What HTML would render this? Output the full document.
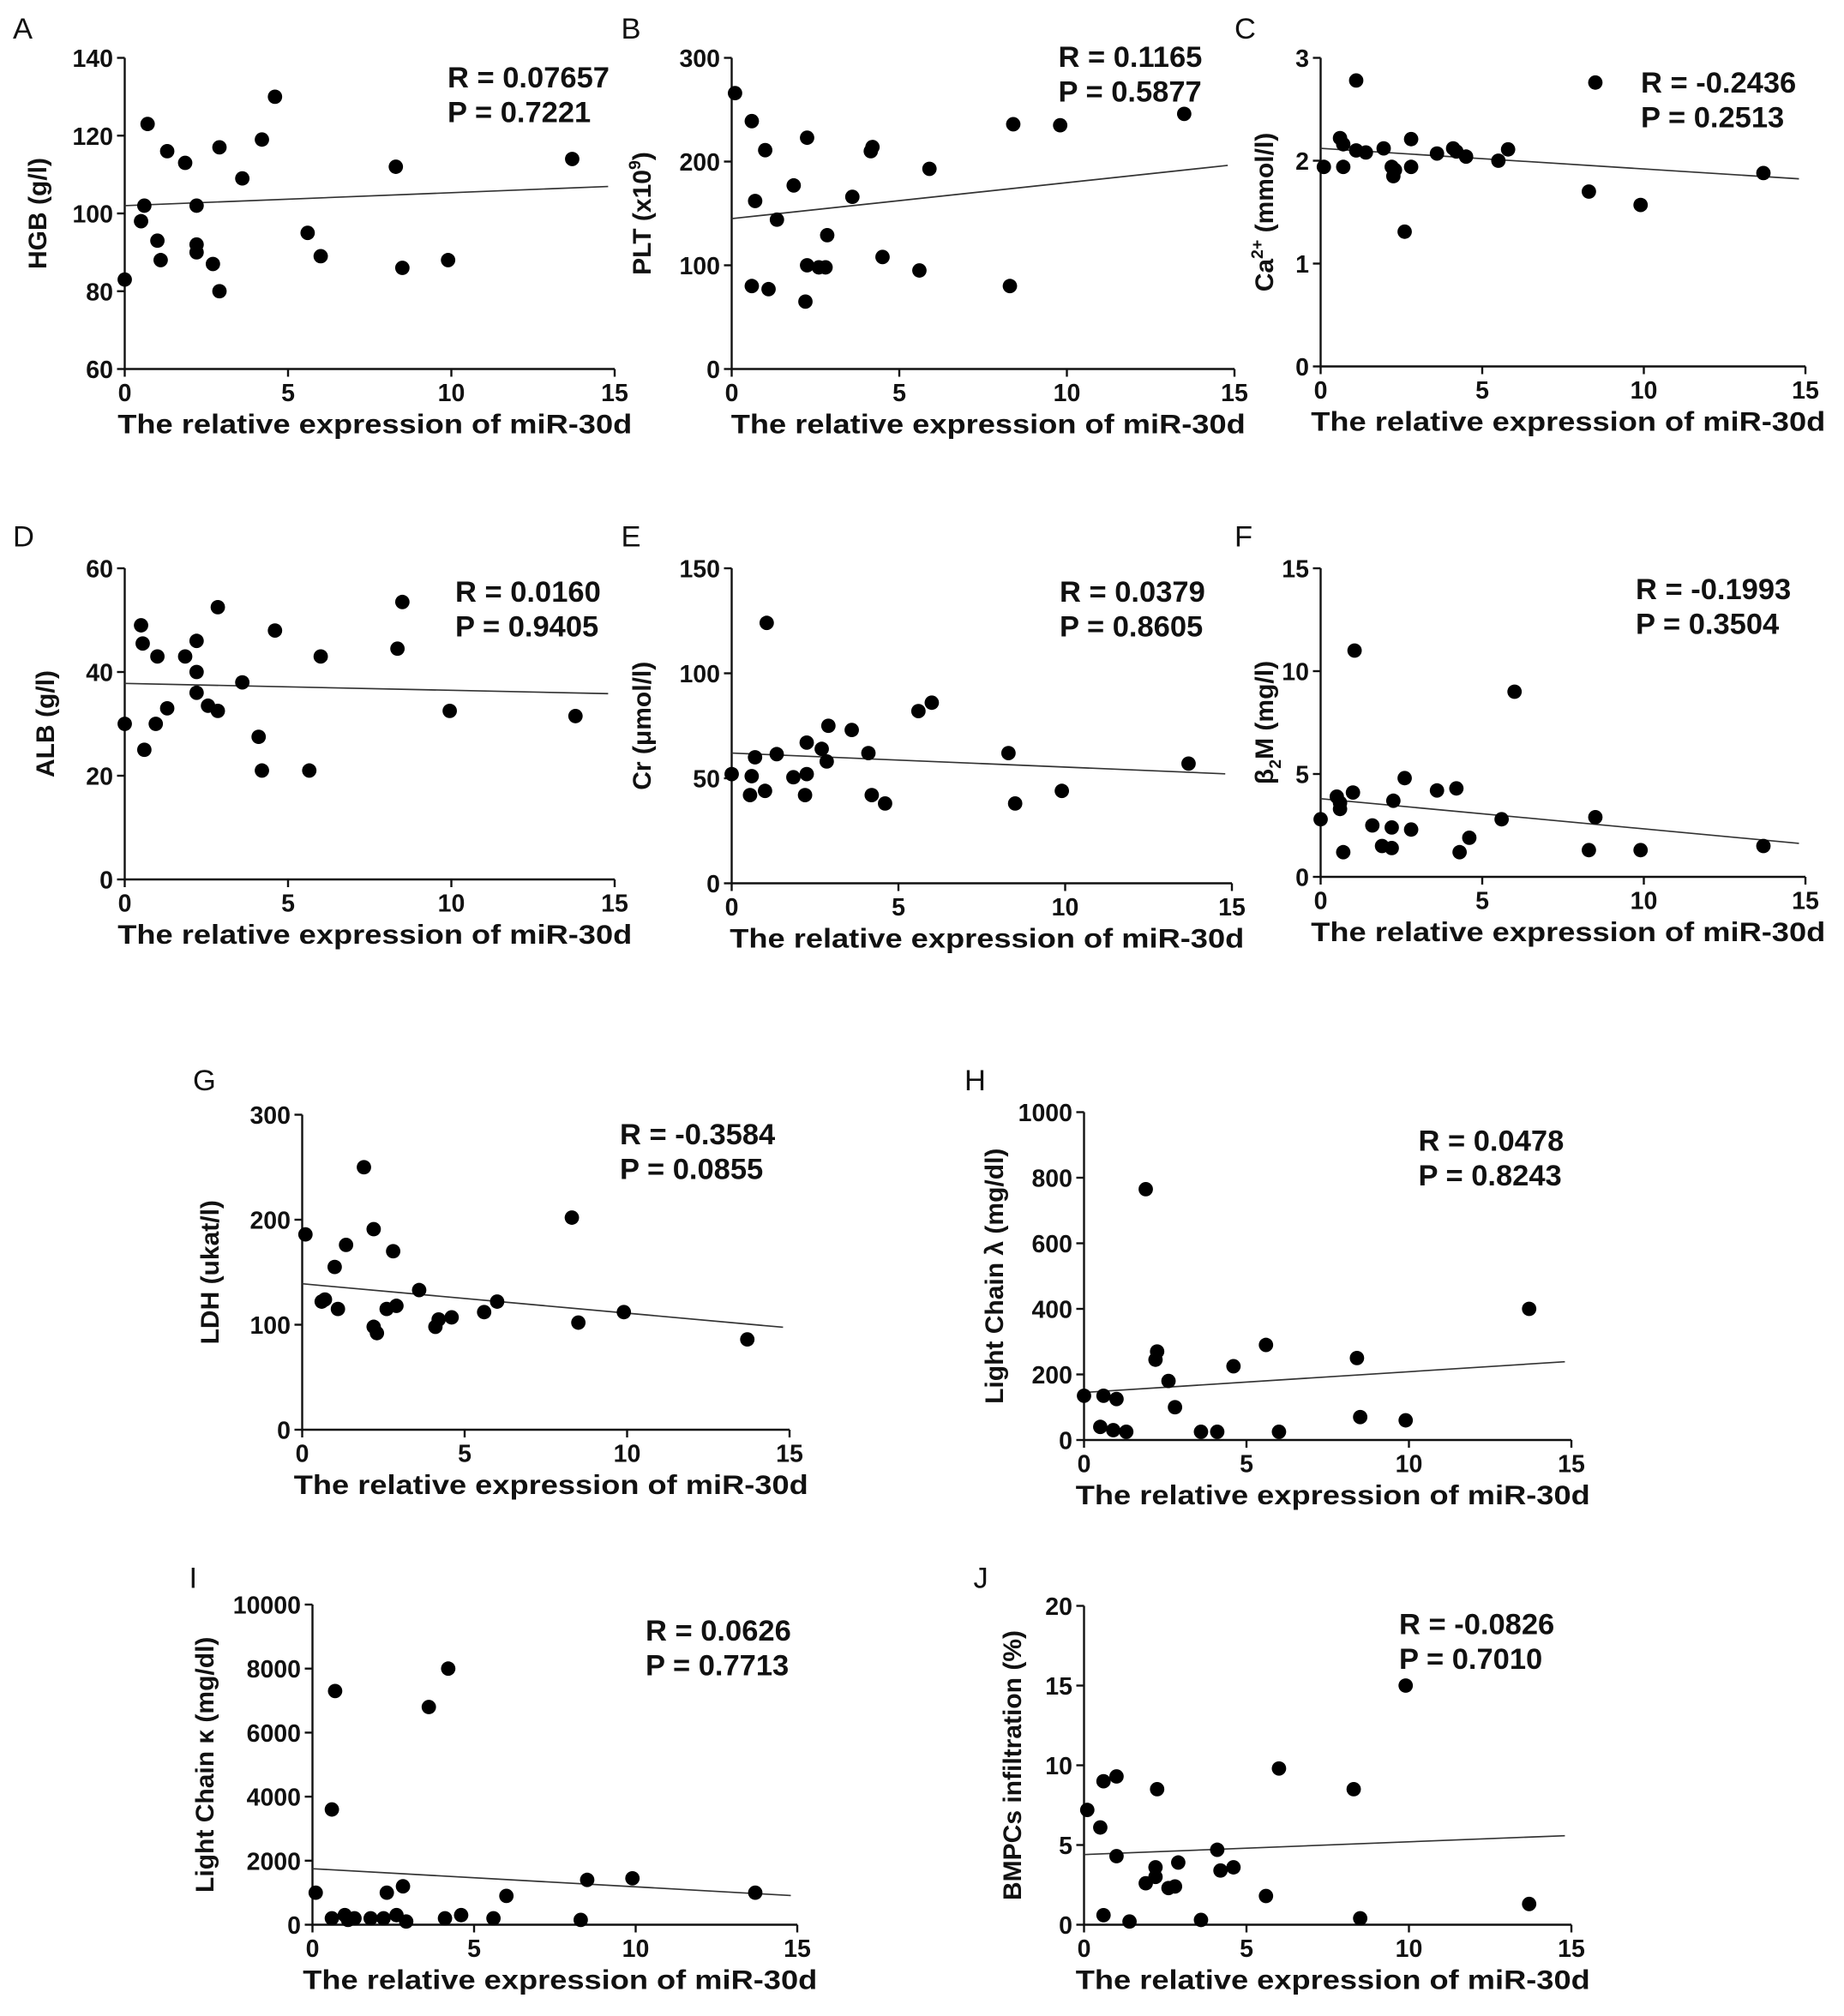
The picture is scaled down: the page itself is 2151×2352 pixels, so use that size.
<!DOCTYPE html>
<html><head><meta charset="utf-8"><style>
html,body{margin:0;padding:0;background:#fff}
svg{display:block}
text{font-family:"Liberation Sans",Arial,sans-serif;fill:#111}
.tick{font-size:19px;font-weight:bold}
.ttl{font-size:20px;font-weight:bold}
.xttl{font-size:21px;font-weight:bold}
.stat{font-size:23px;font-weight:bold}
.lab{font-size:23px}
</style></head><body>
<svg id="fig" width="2151" height="2352" viewBox="0 0 1434 1568" xmlns="http://www.w3.org/2000/svg"></svg>
<script>
// Panel data
const xTicks = [0, 5, 10, 15];
const aX = [0,0.5,0.6,0.7,1.0,1.1,1.3,1.85,2.2,2.2,2.2,2.7,2.9,2.9,3.6,4.2,4.6,5.6,6.0,8.3,8.5,9.9,13.7];
const aY = [83,98,102,123,93,88,116,113,102,92,90,87,117,80,109,119,130,95,89,112,86,88,114];
const aTicks = [60,80,100,120,140];
const aLine = [102,107];
const bX = [0.1,0.6,0.7,0.6,1.0,1.1,1.35,1.85,2.25,2.25,2.2,2.6,2.8,2.85,3.6,4.15,4.2,4.5,5.6,5.9,8.3,8.4,9.8,13.5];
const bY = [266,239,162,80,211,77,144,177,223,100,65,98,98,129,166,210,214,108,95,193,80,236,235,246];
const bTicks = [0,100,200,300];
const bLine = [145,197];
const cX = [0.1,0.6,0.7,0.7,1.1,1.1,1.4,1.95,2.2,2.25,2.3,2.6,2.8,2.8,3.6,4.1,4.2,4.5,5.5,5.8,8.3,8.5,9.9,13.7];
const cY = [1.94,2.22,2.16,1.94,2.78,2.1,2.08,2.12,1.94,1.85,1.91,1.31,2.21,1.94,2.07,2.12,2.09,2.04,2.0,2.11,1.7,2.76,1.57,1.88];
const cTicks = [0,1,2,3];
const cLine = [2.12,1.82];
const dX = [0,0.5,0.55,0.6,1.0,0.95,1.3,1.85,2.2,2.2,2.2,2.55,2.85,2.85,3.6,4.1,4.2,4.6,5.65,6.0,8.35,8.5,9.95,13.8];
const dY = [30,49,45.5,25,43,30,33,43,46,40,36,33.5,32.5,52.5,38,27.5,21,48,21,43,44.5,53.5,32.5,31.5];
const dTicks = [0,20,40,60];
const dLine = [37.8,35.8];
const eX = [0,0.55,0.6,0.7,1.05,1.0,1.35,1.85,2.25,2.25,2.2,2.7,2.85,2.9,3.6,4.1,4.2,4.6,5.6,6.0,8.3,8.5,9.9,13.7];
const eY = [52,42,51,60,124,44,61.5,50.5,67,52,42,64,58,75,73,62,42,38,82,86,62,38,44,57];
const eTicks = [0,50,100,150];
const eLine = [62,52];
const fX = [0,0.5,0.6,0.6,0.7,1.0,1.05,1.6,1.9,2.2,2.2,2.25,2.6,2.8,3.6,4.2,4.3,4.6,5.6,6.0,8.3,8.5,9.9,13.7];
const fY = [2.8,3.9,3.6,3.3,1.2,4.1,11.0,2.5,1.5,1.4,2.4,3.7,4.8,2.3,4.2,4.3,1.2,1.9,2.8,9.0,1.3,2.9,1.3,1.5];
const fTicks = [0,5,10,15];
const fLine = [3.8,1.6];
const gX = [0.1,0.6,0.7,1.0,1.1,1.35,1.9,2.2,2.2,2.3,2.6,2.8,2.9,3.6,4.1,4.2,4.6,5.6,6.0,8.3,8.5,9.9,13.7];
const gY = [186,122,124,155,115,176,250,191,98,92,115,170,118,133,98,105,107,112,122,202,102,112,86];
const gTicks = [0,100,200,300];
const gLine = [139,97];
const hX = [0,0.5,0.6,0.9,1.0,1.3,1.9,2.2,2.25,2.6,2.8,3.6,4.1,4.6,5.6,6.0,8.4,8.5,9.9,13.7];
const hY = [135,40,135,30,125,25,765,245,270,180,100,25,25,225,290,25,250,70,60,400];
const hTicks = [0,200,400,600,800,1000];
const hLine = [145,240];
const iX = [0.1,0.6,0.7,0.6,1.0,1.1,1.3,1.8,2.2,2.3,2.6,2.8,2.9,3.6,4.1,4.2,4.6,5.6,6.0,8.3,8.5,9.9,13.7];
const iY = [1000,3600,7300,200,300,150,200,200,200,1000,300,1200,100,6800,200,8000,300,200,900,150,1400,1450,1000];
const iTicks = [0,2000,4000,6000,8000,10000];
const iLine = [1750,900];
const jX = [0.1,0.5,0.6,0.6,1.0,1.0,1.4,1.9,2.2,2.2,2.25,2.6,2.8,2.9,3.6,4.1,4.2,4.6,5.6,6.0,8.3,8.5,9.9,13.7];
const jY = [7.2,6.1,9.0,0.6,9.3,4.3,0.2,2.6,3.6,3.0,8.5,2.3,2.4,3.9,0.3,4.7,3.4,3.6,1.8,9.8,8.5,0.4,15.0,1.3];
const jTicks = [0,5,10,15,20];
const jLine = [4.4,5.6];

const NS = "http://www.w3.org/2000/svg";
const svg = document.getElementById('fig');
function mk(tag, attrs, parent, txt){
  const e = document.createElementNS(NS, tag);
  for (const k in attrs) e.setAttribute(k, attrs[k]);
  if (txt !== undefined) e.textContent = txt;
  (parent||svg).appendChild(e);
  return e;
}
function panel(p){
  const g = mk('g', {});
  
  
  const ymin = p.ticks[0], ymax = p.ticks[p.ticks.length-1];
  const sx = v => p.x0 + (p.x1 - p.x0) * v / 15;
  const sy = v => p.yb - (p.yb - p.yt) * (v - ymin) / (ymax - ymin);
  const L = mk('text', {x:p.lx, y:p.ly, class:'lab'}, g, p.id);
  
  
  const ax = mk('path', {d:`M${p.x0},${p.yt}V${p.yb}H${p.x1}`, fill:'none', stroke:'#111', 'stroke-width':1.6}, g);
  
  
  p.ticks.forEach(t => {
    const y = sy(t);
    mk('line', {x1:p.x0-6, x2:p.x0, y1:y, y2:y, stroke:'#111', 'stroke-width':1.6}, g);
    const tl = mk('text', {x:p.x0-9, y:y+7, class:'tick', 'text-anchor':'end'}, g, t);
    
    
  });
  xTicks.forEach(t => {
    const x = sx(t);
    mk('line', {x1:x, x2:x, y1:p.yb, y2:p.yb+6, stroke:'#111', 'stroke-width':1.6}, g);
    const tl = mk('text', {x:x, y:p.yb+25, class:'tick', 'text-anchor':'middle'}, g, t);
    
    
  });
  const cx = (p.x0+p.x1)/2+4;
  const xt = mk('text', {x:cx-200, y:p.yb+50, class:'xttl', textLength:400, lengthAdjust:'spacingAndGlyphs'}, g, 'The relative expression of miR-30d');
  
  
  const yc = (p.yt+p.yb)/2;
  const yt = mk('text', {x:p.ytx, y:yc, class:'ttl', 'text-anchor':'middle', transform:`rotate(-90 ${p.ytx} ${yc})`}, g);
  yt.innerHTML = p.ytitle;
  
  
  const ln = mk('line', {x1:sx(0), y1:sy(p.line[0]), x2:sx(14.8), y2:sy(p.line[0]+(p.line[1]-p.line[0])*14.8/15), stroke:'#333', 'stroke-width':1.1}, g);
  
  
  p.xs.forEach((xv, i) => {
    const c = mk('circle', {cx:sx(xv), cy:sy(p.ys[i]), r:5.6, fill:'#000'}, g);
    
    
  });
  const r = mk('text', {x:p.rx, y:p.ry, class:'stat'}, g, 'R = ' + p.r);
  
  
  const pv = mk('text', {x:p.rx, y:p.ry+27, class:'stat'}, g, 'P = ' + p.p);
  
  
}
panel({id:'A',lx:10,ly:30,x0:97,x1:478,yt:45,yb:287,ticks:aTicks,xs:aX,ys:aY,line:aLine,ytitle:'HGB (g/l)',ytx:36,rx:348,ry:68,r:'0.07657',p:'0.7221'});
panel({id:'B',lx:483,ly:30,x0:569,x1:960,yt:45,yb:287,ticks:bTicks,xs:bX,ys:bY,line:bLine,ytitle:'PLT (x10<tspan dy="-8" font-size="13">9</tspan><tspan dy="8">)</tspan>',ytx:506,rx:823,ry:52,r:'0.1165',p:'0.5877'});
panel({id:'C',lx:960,ly:30,x0:1027,x1:1404,yt:45,yb:285,ticks:cTicks,xs:cX,ys:cY,line:cLine,ytitle:'Ca<tspan dy="-8" font-size="13">2+</tspan><tspan dy="8"> (mmol/l)</tspan>',ytx:990,rx:1276,ry:72,r:'-0.2436',p:'0.2513'});
panel({id:'D',lx:10,ly:425,x0:97,x1:478,yt:442,yb:684,ticks:dTicks,xs:dX,ys:dY,line:dLine,ytitle:'ALB (g/l)',ytx:42,rx:354,ry:468,r:'0.0160',p:'0.9405'});
panel({id:'E',lx:483,ly:425,x0:569,x1:958,yt:442,yb:687,ticks:eTicks,xs:eX,ys:eY,line:eLine,ytitle:'Cr (μmol/l)',ytx:506,rx:824,ry:468,r:'0.0379',p:'0.8605'});
panel({id:'F',lx:960,ly:425,x0:1027,x1:1404,yt:442,yb:682,ticks:fTicks,xs:fX,ys:fY,line:fLine,ytitle:'β<tspan dy="6" font-size="13">2</tspan><tspan dy="-6">M (mg/l)</tspan>',ytx:990,rx:1272,ry:466,r:'-0.1993',p:'0.3504'});
panel({id:'G',lx:150,ly:848,x0:235,x1:614,yt:867,yb:1112,ticks:gTicks,xs:gX,ys:gY,line:gLine,ytitle:'LDH (ukat/l)',ytx:170,rx:482,ry:890,r:'-0.3584',p:'0.0855'});
panel({id:'H',lx:750,ly:848,x0:843,x1:1222,yt:865,yb:1120,ticks:hTicks,xs:hX,ys:hY,line:hLine,ytitle:'Light Chain λ (mg/dl)',ytx:780,rx:1103,ry:895,r:'0.0478',p:'0.8243'});
panel({id:'I',lx:147,ly:1235,x0:243,x1:620,yt:1248,yb:1497,ticks:iTicks,xs:iX,ys:iY,line:iLine,ytitle:'Light Chain κ (mg/dl)',ytx:166,rx:502,ry:1276,r:'0.0626',p:'0.7713'});
panel({id:'J',lx:757,ly:1235,x0:843,x1:1222,yt:1249,yb:1497,ticks:jTicks,xs:jX,ys:jY,line:jLine,ytitle:'BMPCs infiltration (%)',ytx:794,rx:1088,ry:1271,r:'-0.0826',p:'0.7010'});
</script>
</body></html>
